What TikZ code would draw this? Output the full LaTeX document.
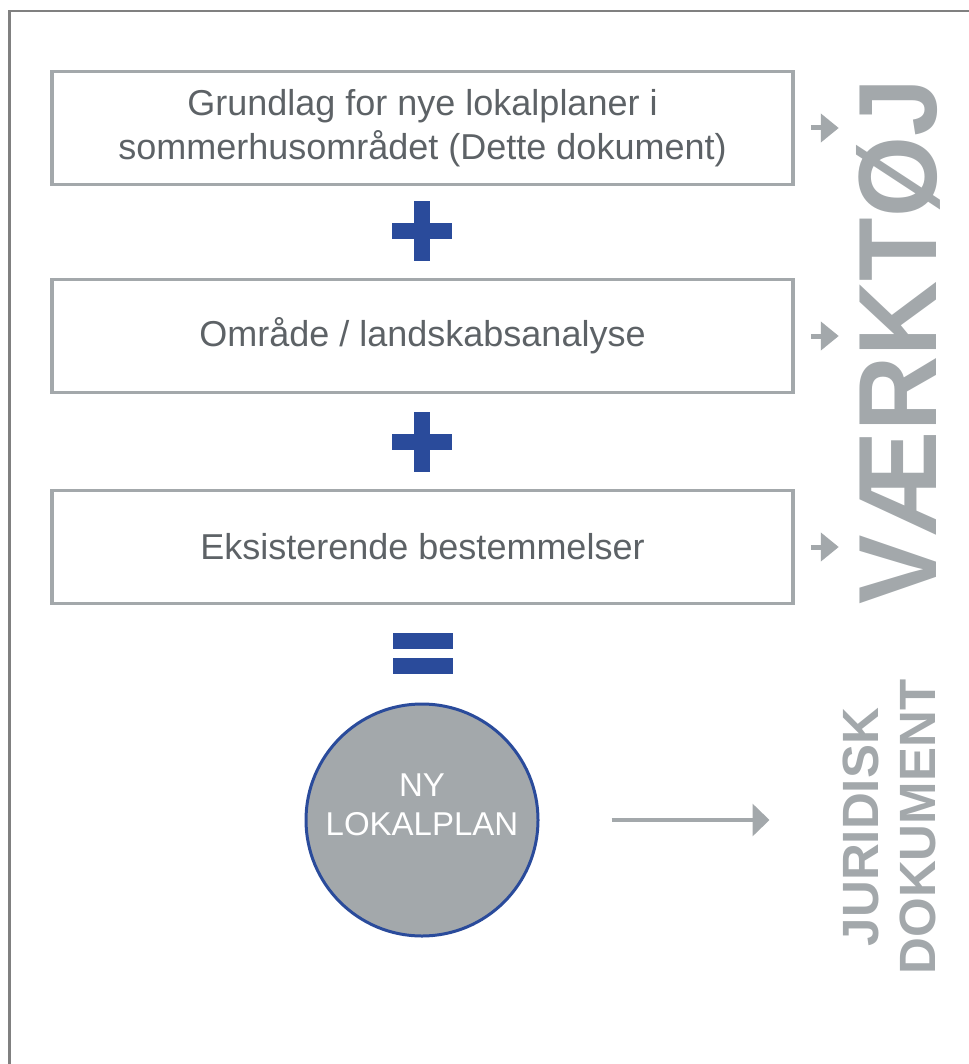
\documentclass[tikz,border=0pt]{standalone}
\usepackage{fontspec}
\setmainfont{Liberation Sans}
\usetikzlibrary{positioning,arrows.meta,calc}

\definecolor{framegray}{HTML}{808080}
\definecolor{linegray}{HTML}{A3A8AB}
\definecolor{textgray}{HTML}{5D6266}
\definecolor{planblue}{HTML}{2A4B9B}

\begin{document}
\begin{tikzpicture}[
    x=1pt, y=-1pt,
    planbox/.style={rectangle, draw=linegray, line width=3.5pt, minimum width=741pt, minimum height=113pt, align=center, text=textgray, font=\fontsize{36}{44}\selectfont},
    plancircle/.style={circle, draw=planblue, line width=3pt, fill=linegray, minimum size=232pt, inner sep=0pt},
    circletext/.style={align=center, text=white, inner sep=0pt, font=\fontsize{33}{39}\selectfont},
    sidetext/.style={rotate=90, text=linegray, inner sep=0pt, align=center},
    smallarrow/.style={-{Triangle[length=18pt,width=28pt]}, line width=5pt, linegray},
    bigarrow/.style={-{Triangle[length=17pt,width=32pt]}, line width=3.5pt, linegray}
]
\useasboundingbox (0,0) rectangle (968,1064);

% outer frame (only top and left edge inside the page)
\draw[framegray, line width=2.5pt] (9.5,1070) -- (9.5,11) -- (975,11);

% the three inputs
\node[planbox] (b1) at (422.5,128) {Grundlag for nye lokalplaner i\\sommerhusområdet (Dette dokument)};
\node[planbox] (b2) at (422.5,336) {Område / landskabsanalyse};
\node[planbox] (b3) at (422.5,547) {Eksisterende bestemmelser};

% plus signs
\fill[planblue] (392,223) rectangle (452,239);
\fill[planblue] (414,201) rectangle (430,261);
\fill[planblue] (392,434) rectangle (452,450);
\fill[planblue] (414,412) rectangle (430,472);

% equals sign
\fill[planblue] (393,633) rectangle (453,649);
\fill[planblue] (393,658) rectangle (453,674);

% result
\node[plancircle] (plan) at (422,820) {};
\node[circletext] (plantxt) at (422,804.5) {NY\\LOKALPLAN};

% side labels
\node[sidetext, anchor=base, font=\bfseries\fontsize{104}{104}\selectfont] (tool) at (936,342) {\scalebox{1}[1.07]{VÆRKTØJ}};
\node[sidetext, anchor=north, font=\bfseries\fontsize{51}{57}\selectfont] (legal) at (843,827) {JURIDISK\\DOKUMENT};

% arrows
\foreach \i in {1,2,3} {
    \draw[smallarrow] ([xshift=16pt]b\i.east) -- ([xshift=44pt]b\i.east);
}
\draw[bigarrow] ([xshift=72pt]plan.east) -- ([xshift=230pt]plan.east);

\end{tikzpicture}
\end{document}
